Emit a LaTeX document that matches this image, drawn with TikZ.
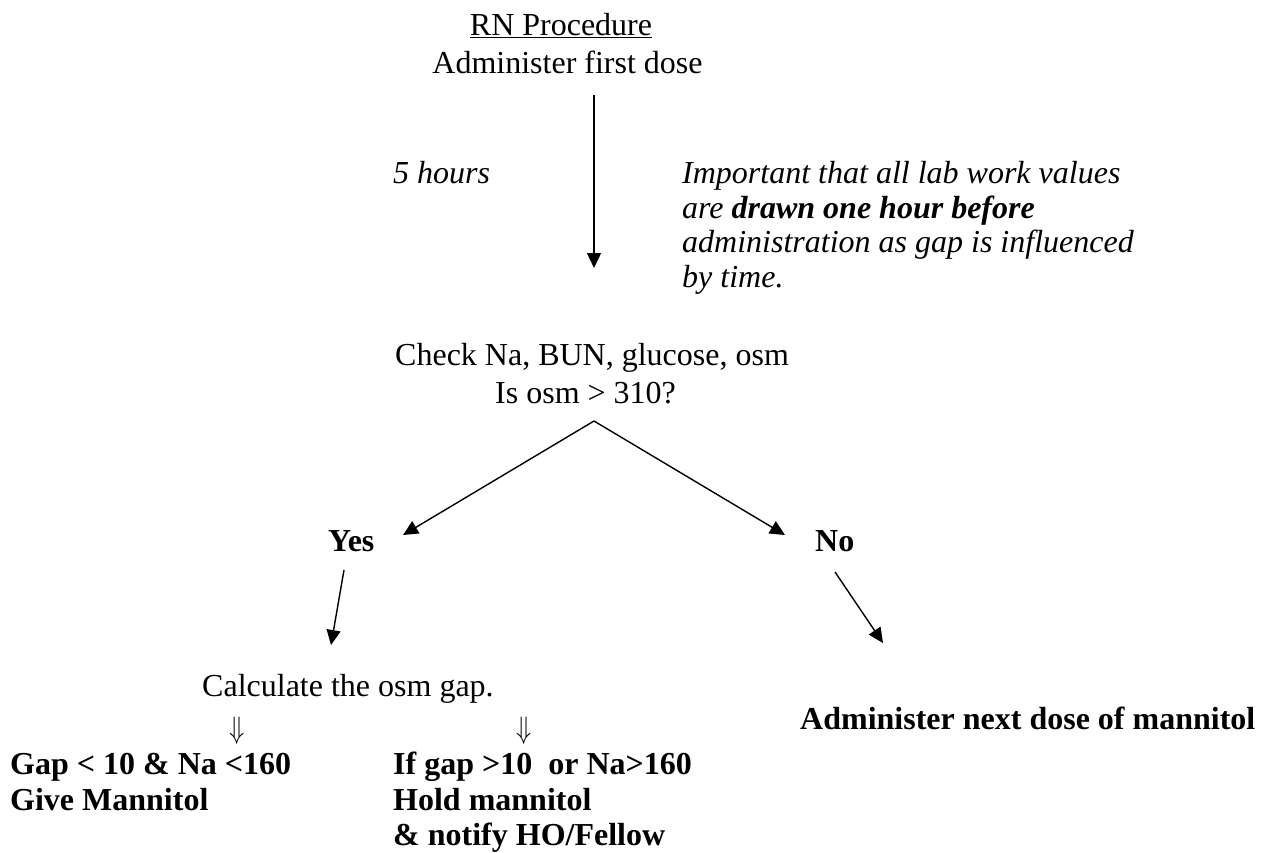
\documentclass[tikz,border=0pt]{standalone}
\usepackage{fontspec}
\setmainfont{Liberation Serif}
\usetikzlibrary{arrows.meta}
\begin{document}
\begin{tikzpicture}[x=1pt,y=-1pt,
  txt/.style={inner sep=0pt,font=\fontsize{32}{36.8}\selectfont},
  itx/.style={txt,anchor=base west,font=\fontsize{32}{36.8}\selectfont\itshape},
  bfx/.style={txt,anchor=base west,font=\fontsize{32}{36.8}\selectfont\bfseries},
  dbl/.style={txt,anchor=base},
  arr/.style={line width=1.4pt,-{Triangle[length=15pt,width=14pt]}}]
\useasboundingbox (0,0) rectangle (1271,852);
\node[txt,anchor=base] (rn) at (561,35) {\underline{RN Procedure}};
\node[txt,anchor=base] (adm) at (567.5,73) {Administer first dose};
\coordinate (a1s) at (594,95);
\coordinate (a1e) at (594,268);
\draw[arr] (a1s) -- (a1e);
\node[itx] (five) at (393,183) {5 hours};
\node[itx] (imp1) at (682,183) {Important that all lab work values};
\node[itx] (imp2) at (682,218) {are \textbf{drawn one hour before}};
\node[itx] (imp3) at (682,252) {administration as gap is influenced};
\node[itx] (imp4) at (682,287) {by time.};
\node[txt,anchor=base west] (chk) at (395,365) {Check Na, BUN, glucose, osm};
\node[txt,anchor=base west] (isosm) at (495,403) {Is osm {>} 310?};
\coordinate (apex) at (594,421);
\coordinate (yt) at (403,535);
\coordinate (nt) at (785,535);
\draw[arr] (apex) -- (yt);
\draw[arr] (apex) -- (nt);
\node[bfx] (yes) at (328,551) {Yes};
\node[bfx] (no) at (815,551) {No};
\coordinate (ys) at (344,570);
\coordinate (ye) at (331,645);
\draw[arr] (ys) -- (ye);
\coordinate (ns) at (835,572);
\coordinate (ne) at (883,643);
\draw[arr] (ns) -- (ne);
\node[txt,anchor=base west] (calc) at (202,696) {Calculate the osm gap.};
\node[dbl] (d1) at (237,738) {\scalebox{1.0}[1.25]{$\Downarrow$}};
\node[dbl] (d2) at (524,738) {\scalebox{1.0}[1.25]{$\Downarrow$}};
\node[bfx] (g1) at (10,774) {Gap {<} 10 \& Na {<}160};
\node[bfx] (g2) at (10,810) {Give Mannitol};
\node[bfx] (h1) at (393,774) {If gap {>}10\ \ or Na{>}160};
\node[bfx] (h2) at (393,810) {Hold mannitol};
\node[bfx] (h3) at (393,845) {\& notify HO/Fellow};
\node[bfx] (next) at (800,729) {Administer next dose of mannitol};
\end{tikzpicture}
\end{document}
